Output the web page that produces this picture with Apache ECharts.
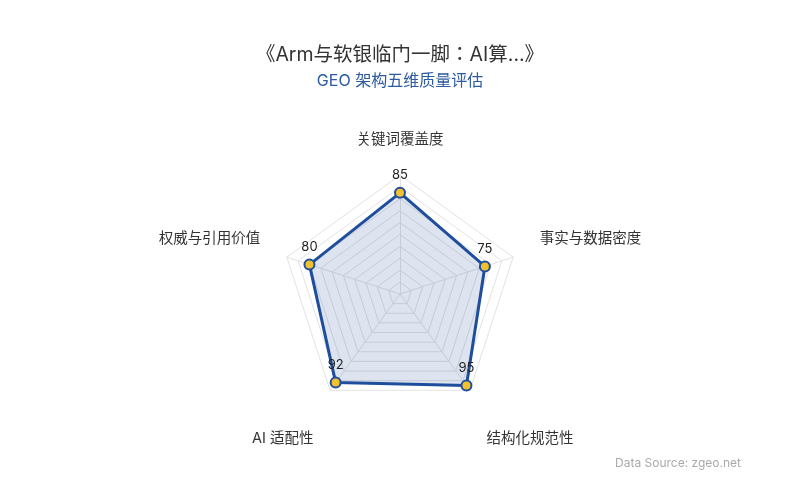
<!DOCTYPE html>
<html>
<head>
<meta charset="utf-8">
<script src="https://cdn.jsdelivr.net/npm/echarts@6/dist/echarts.min.js"></script>
<style>
  html, body { margin: 0; padding: 0; background: #fff; }
  #chart { width: 800px; height: 500px; }
</style>
</head>
<body>
<div id="chart"></div>
<script>
// radar dimensions and scores (listed counterclockwise from the top, as echarts draws them)
const dimensions = ['关键词覆盖度', '权威与引用价值', 'AI 适配性', '结构化规范性', '事实与数据密度'];
const scores = [85, 80, 92, 95, 75];
const maxScore = 100;

const fontFamily = 'Inter, "Noto Sans CJK JP", "Noto Sans CJK SC", sans-serif';
const nameStyle = { color: '#333', fontSize: 14.5, fontFamily };

const chart = echarts.init(document.getElementById('chart'), null, { renderer: 'canvas' });

// push the names a bit away from the corners, like the original layout
function formatName(name) {
	const i = dimensions.indexOf(name),
		angle = (90 + i * 360 / dimensions.length) * Math.PI / 180;

	if (Math.sin(angle) < -0.5) {
		return '{low|' + name + '}';
	}
	if (Math.abs(Math.cos(angle)) > 0.5) {
		return '{side|' + name + '}';
	}
	return '{top|' + name + '}';
}

chart.setOption({
	backgroundColor: '#fff',
	textStyle: { fontFamily },
	title: [{
		text: '《Arm与软银临门一脚：AI算...》',
		subtext: 'GEO 架构五维质量评估',
		left: 'center',
		top: 40,
		itemGap: 9,
		textStyle: { fontSize: 19.5, fontWeight: 'normal', color: '#333', fontFamily },
		subtextStyle: { fontSize: 16, color: '#2d5aa0', fontFamily }
	}, {
		text: 'Data Source: zgeo.net',
		right: 54,
		bottom: 26,
		textStyle: { fontSize: 12, fontWeight: 'normal', color: '#aaa', fontFamily }
	}],
	radar: {
		center: [400, 294],
		radius: 119,
		startAngle: 90,
		splitNumber: 10,
		shape: 'polygon',
		indicator: dimensions.map(name => ({ name, max: maxScore })),
		nameGap: 28,
		axisName: {
			color: '#333',
			fontSize: 14.5,
			fontFamily,
			formatter: formatName,
			rich: {
				top: nameStyle,
				side: Object.assign({ padding: [0, 0, 19, 0] }, nameStyle),
				low: Object.assign({ padding: [52, 0, 0, 0] }, nameStyle)
			}
		},
		axisLine: { lineStyle: { color: '#e3e3e3' } },
		splitLine: { lineStyle: { color: '#e3e3e3' } },
		splitArea: { show: false }
	},
	series: [{
		type: 'radar',
		symbol: 'circle',
		symbolSize: 10,
		lineStyle: { color: '#1f4e9c', width: 3 },
		itemStyle: { color: '#f2c12e', borderColor: '#1f4e9c', borderWidth: 2 },
		areaStyle: { color: 'rgba(31, 78, 156, 0.22)' },
		label: { show: true, color: '#222', fontSize: 13, distance: 5, fontFamily },
		data: [{ value: scores, name: 'GEO' }]
	}]
});
</script>
</body>
</html>
